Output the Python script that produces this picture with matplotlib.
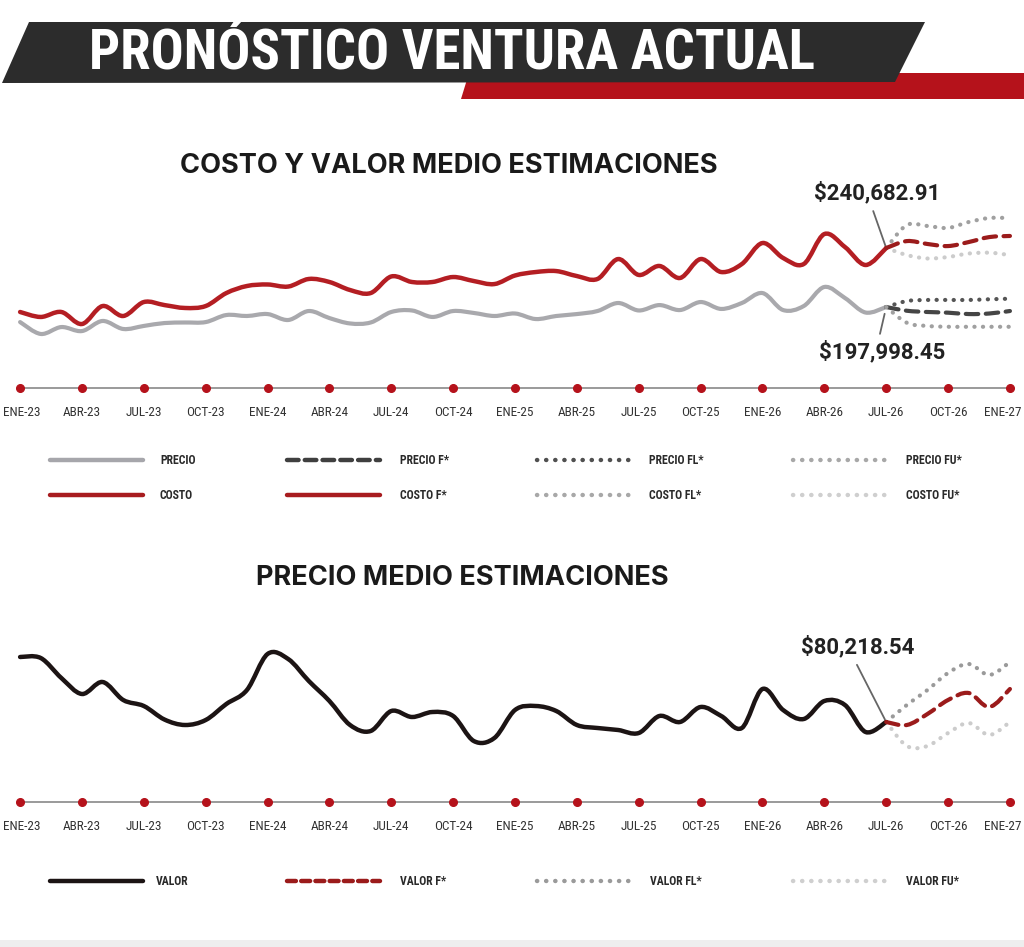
import numpy as np
import matplotlib
matplotlib.use("Agg")
import matplotlib.pyplot as plt
from matplotlib.path import Path
from matplotlib.patches import PathPatch, Polygon, Rectangle
from matplotlib.transforms import ScaledTranslation

# ─── Data (month index: 0 = ENE-23 ... 48 = ENE-27) ─────────────────────────

MONTHS_HIST = list(range(0, 43))
MONTHS_FC = list(range(42, 49))
TICK_MONTHS = list(range(0, 49, 3))
TICK_LABELS = ["ENE-23", "ABR-23", "JUL-23", "OCT-23", "ENE-24", "ABR-24", "JUL-24",
               "OCT-24", "ENE-25", "ABR-25", "JUL-25", "OCT-25", "ENE-26", "ABR-26",
               "JUL-26", "OCT-26", "ENE-27"]

precio = [187100, 178500, 183500, 180600, 187900, 182100, 184300, 186400, 186800, 187100,
          192200, 191500, 192900, 188600, 195100, 190000, 186100, 186800, 194400, 195500,
          190800, 195100, 193700, 191500, 193300, 189300, 191500, 192900, 195100, 200900,
          195500, 199400, 195800, 201600, 196600, 200900, 208100, 195800, 198700, 212500,
          204500, 194000, 197998.45]
precio_f = [197998.45, 195300, 194400, 193900, 192900, 193300, 195100]
precio_fl = [197998.45, 202300, 203100, 203100, 203100, 203600, 204000]
precio_fu = [197998.45, 186600, 184300, 183700, 183700, 183700, 183700]

costo = [194400, 190800, 194400, 185700, 198700, 191500, 201600, 199400, 197300, 198700,
         208100, 213200, 214300, 212800, 218300, 216100, 210300, 208100, 220100, 216100,
         216100, 219700, 216800, 214600, 220800, 223300, 224000, 220400, 218300, 232700,
         221200, 227700, 219000, 232700, 223300, 229100, 244300, 233500, 229100, 250800,
         241400, 228400, 240682.91]
costo_f = [240682.91, 245700, 243600, 242100, 245000, 248600, 249400]
costo_fl = [240682.91, 257300, 256600, 255200, 259500, 262400, 262400]
costo_fu = [240682.91, 235600, 233100, 234200, 236700, 237300, 235600]

valor = [89970, 89820, 86820, 84420, 86220, 83520, 82620, 80590, 79770, 80520,
         82920, 85020, 90420, 89670, 86370, 83370, 79770, 78870, 81870, 80970,
         81720, 81120, 77370, 77820, 82020, 82620, 81870, 79770, 79320, 79020,
         78570, 81120, 80220, 82470, 81120, 79320, 85170, 82020, 80670, 83370,
         82770, 78720, 80218.54]
valor_f = [80218.54, 79770, 81420, 83520, 84570, 82470, 85170]
valor_fl = [80218.54, 82770, 85020, 87570, 88920, 87270, 89220]
valor_fu = [80218.54, 76620, 76620, 78570, 80070, 78270, 80220]

RED = "#b5121b"
DARK = "#2c2c2c"
COND = ["Roboto Condensed", "Liberation Sans Narrow", "Roboto"]


def smooth_path(xs, ys):
    # Catmull-Rom through the points, drawn as cubic Bezier segments
    pts = np.column_stack([xs, ys]).astype(float)
    n = len(pts)
    verts, codes = [pts[0]], [Path.MOVETO]
    for i in range(n - 1):
        p0 = pts[i - 1] if i > 0 else pts[i]
        p1, p2 = pts[i], pts[i + 1]
        p3 = pts[i + 2] if i + 2 < n else pts[i + 1]
        verts += [p1 + (p2 - p0) / 6, p2 - (p3 - p1) / 6, p2]
        codes += [Path.CURVE4] * 3
    return Path(verts, codes)


def curve(ax, xs, ys, color, lw, ls="-", z=3):
    patch = PathPatch(smooth_path(xs, ys), fill=False, edgecolor=color, linewidth=lw,
                      linestyle=ls, transform=ax.transData, clip_on=False, zorder=z)
    patch.set_capstyle("round")
    patch.set_joinstyle("round")
    ax.add_patch(patch)


def time_axis(ax, ylim):
    ax.set_xlim(-0.15, 48.1)
    ax.set_ylim(*ylim)
    ax.set_facecolor("none")
    for s in ["top", "left", "right"]:
        ax.spines[s].set_visible(False)
    ax.spines["bottom"].set_color("#9a9a9a")
    ax.spines["bottom"].set_linewidth(1.4)
    ax.spines["bottom"].set_bounds(-0.1, 48)
    ax.set_yticks([])
    ax.set_xticks(TICK_MONTHS, TICK_LABELS)
    ax.tick_params(axis="x", length=0, pad=13, labelsize=9.5, labelcolor="#333333")
    labels = ax.get_xticklabels()
    for lab in labels:
        lab.set_fontfamily(["Roboto Condensed", "Roboto"])
    # keep the end labels inside the picture
    labels[0].set_transform(labels[0].get_transform()
                            + ScaledTranslation(2 / 100, 0, fig.dpi_scale_trans))
    labels[-1].set_transform(labels[-1].get_transform()
                             + ScaledTranslation(-7 / 100, 0, fig.dpi_scale_trans))
    ax.plot(TICK_MONTHS, [ylim[0]] * len(TICK_MONTHS), "o", color=RED, ms=5.5,
            clip_on=False, zorder=5)


fig = plt.figure(figsize=(10.24, 9.47), dpi=100)
fig.patch.set_facecolor("white")

# background / decoration layer in pixel coordinates
bg = fig.add_axes([0, 0, 1, 1])
bg.set_xlim(0, 1024)
bg.set_ylim(947, 0)
bg.axis("off")
bg.add_patch(Polygon([(469, 73), (1024, 73), (1024, 99), (461, 99)], closed=True,
                     facecolor=RED, edgecolor="none"))
bg.add_patch(Polygon([(29, 22), (925, 22), (895, 82), (2, 83)], closed=True,
                     facecolor=DARK, edgecolor="none"))
bg.add_patch(Rectangle((0, 940), 1024, 7, facecolor="#eeeeee", edgecolor="none"))
bg.text(452, 53, "PRONÓSTICO VENTURA ACTUAL", color="white", fontsize=39.5,
        fontweight="bold", family=COND, ha="center", va="center")
bg.text(449, 166, "COSTO Y VALOR MEDIO ESTIMACIONES", color="#1a1a1a", fontsize=19.6,
        fontweight="bold", family="Inter", ha="center", va="center")
bg.text(462, 578, "PRECIO MEDIO ESTIMACIONES", color="#1a1a1a", fontsize=19.6,
        fontweight="bold", family="Inter", ha="center", va="center")

# legends
DOT = (0, (0.05, 2.0))
legend_top = [
    ("PRECIO", "#a6a6ab", "-", 50, 160, 460),
    ("PRECIO F*", "#3f3f3f", (0, (2.6, 1.4)), 287, 400, 460),
    ("PRECIO FL*", "#505050", DOT, 537, 649, 460),
    ("PRECIO FU*", "#a8a8a8", DOT, 793, 906, 460),
    ("COSTO", "#a81c1f", "-", 50, 160, 495),
    ("COSTO F*", "#a81c1f", "-", 287, 400, 495),
    ("COSTO FL*", "#a8a8a8", DOT, 537, 649, 495),
    ("COSTO FU*", "#cfcfcf", DOT, 793, 906, 495),
]
legend_bottom = [
    ("VALOR", "#1c1414", "-", 50, 156, 881),
    ("VALOR F*", "#9b1b1b", (0, (2.0, 1.2)), 287, 400, 881),
    ("VALOR FL*", "#9a9a9a", DOT, 537, 650, 881),
    ("VALOR FU*", "#cfcfcf", DOT, 793, 906, 881),
]
for label, color, ls, x0, xt, y in legend_top + legend_bottom:
    bg.plot([x0, x0 + 93], [y, y], color=color, lw=3.2, ls=ls,
            solid_capstyle="round", dash_capstyle="round")
    bg.text(xt, y, label, fontsize=8.5, fontweight="bold", family=COND,
            color="#2a2a2a", ha="left", va="center")

# ─── Top chart: costo y precio ──────────────────────────────────────────────

ax1 = fig.add_axes([17 / 1024, 1 - 388 / 947, 995 / 1024, 208 / 947])
time_axis(ax1, (139400, 289900))
curve(ax1, MONTHS_HIST, precio, "#a9a9ad", 3.0)
curve(ax1, MONTHS_HIST, costo, "#b41e23", 3.2, z=4)
curve(ax1, MONTHS_FC, precio_f, "#454545", 3.0, (0, (3.0, 1.8)))
curve(ax1, MONTHS_FC, precio_fl, "#555555", 3.0, DOT)
curve(ax1, MONTHS_FC, precio_fu, "#a0a0a0", 3.0, DOT)
curve(ax1, MONTHS_FC, costo_f, "#9b1b1b", 3.0, (0, (3.0, 1.8)), z=4)
curve(ax1, MONTHS_FC, costo_fl, "#a0a0a0", 3.0, DOT)
curve(ax1, MONTHS_FC, costo_fu, "#cccccc", 3.0, DOT)

ax1.annotate("$240,682.91", xy=(42, costo[-1]), xytext=(-6.5, 39.6),
             textcoords="offset points", ha="center", va="center", fontsize=16,
             fontweight="bold", family="Roboto", color="#222222",
             arrowprops=dict(arrowstyle="-", color="#666666", lw=1.3,
                             relpos=(0.45, 0), shrinkA=3, shrinkB=1))
ax1.annotate("$197,998.45", xy=(42, precio[-1]), xytext=(-2.9, -32.4),
             textcoords="offset points", ha="center", va="center", fontsize=16,
             fontweight="bold", family="Roboto", color="#222222",
             arrowprops=dict(arrowstyle="-", color="#666666", lw=1.3,
                             relpos=(0.47, 1), shrinkA=3, shrinkB=5))

# ─── Bottom chart: valor ────────────────────────────────────────────────────

ax2 = fig.add_axes([17 / 1024, 1 - 802 / 947, 995 / 1024, 162 / 947])
time_axis(ax2, (68220, 92520))
curve(ax2, MONTHS_HIST, valor, "#1c1414", 3.2, z=4)
curve(ax2, MONTHS_FC, valor_f, "#9b1b1b", 3.0, (0, (3.0, 1.8)), z=4)
curve(ax2, MONTHS_FC, valor_fl, "#9a9a9a", 3.0, DOT)
curve(ax2, MONTHS_FC, valor_fu, "#cccccc", 3.0, DOT)

ax2.annotate("$80,218.54", xy=(42, valor[-1]), xytext=(-20.2, 54),
             textcoords="offset points", ha="center", va="center", fontsize=16,
             fontweight="bold", family="Roboto", color="#222222",
             arrowprops=dict(arrowstyle="-", color="#666666", lw=1.3,
                             relpos=(0.46, 0), shrinkA=3, shrinkB=2))

fig.savefig("out.png", dpi=100, facecolor="white")
